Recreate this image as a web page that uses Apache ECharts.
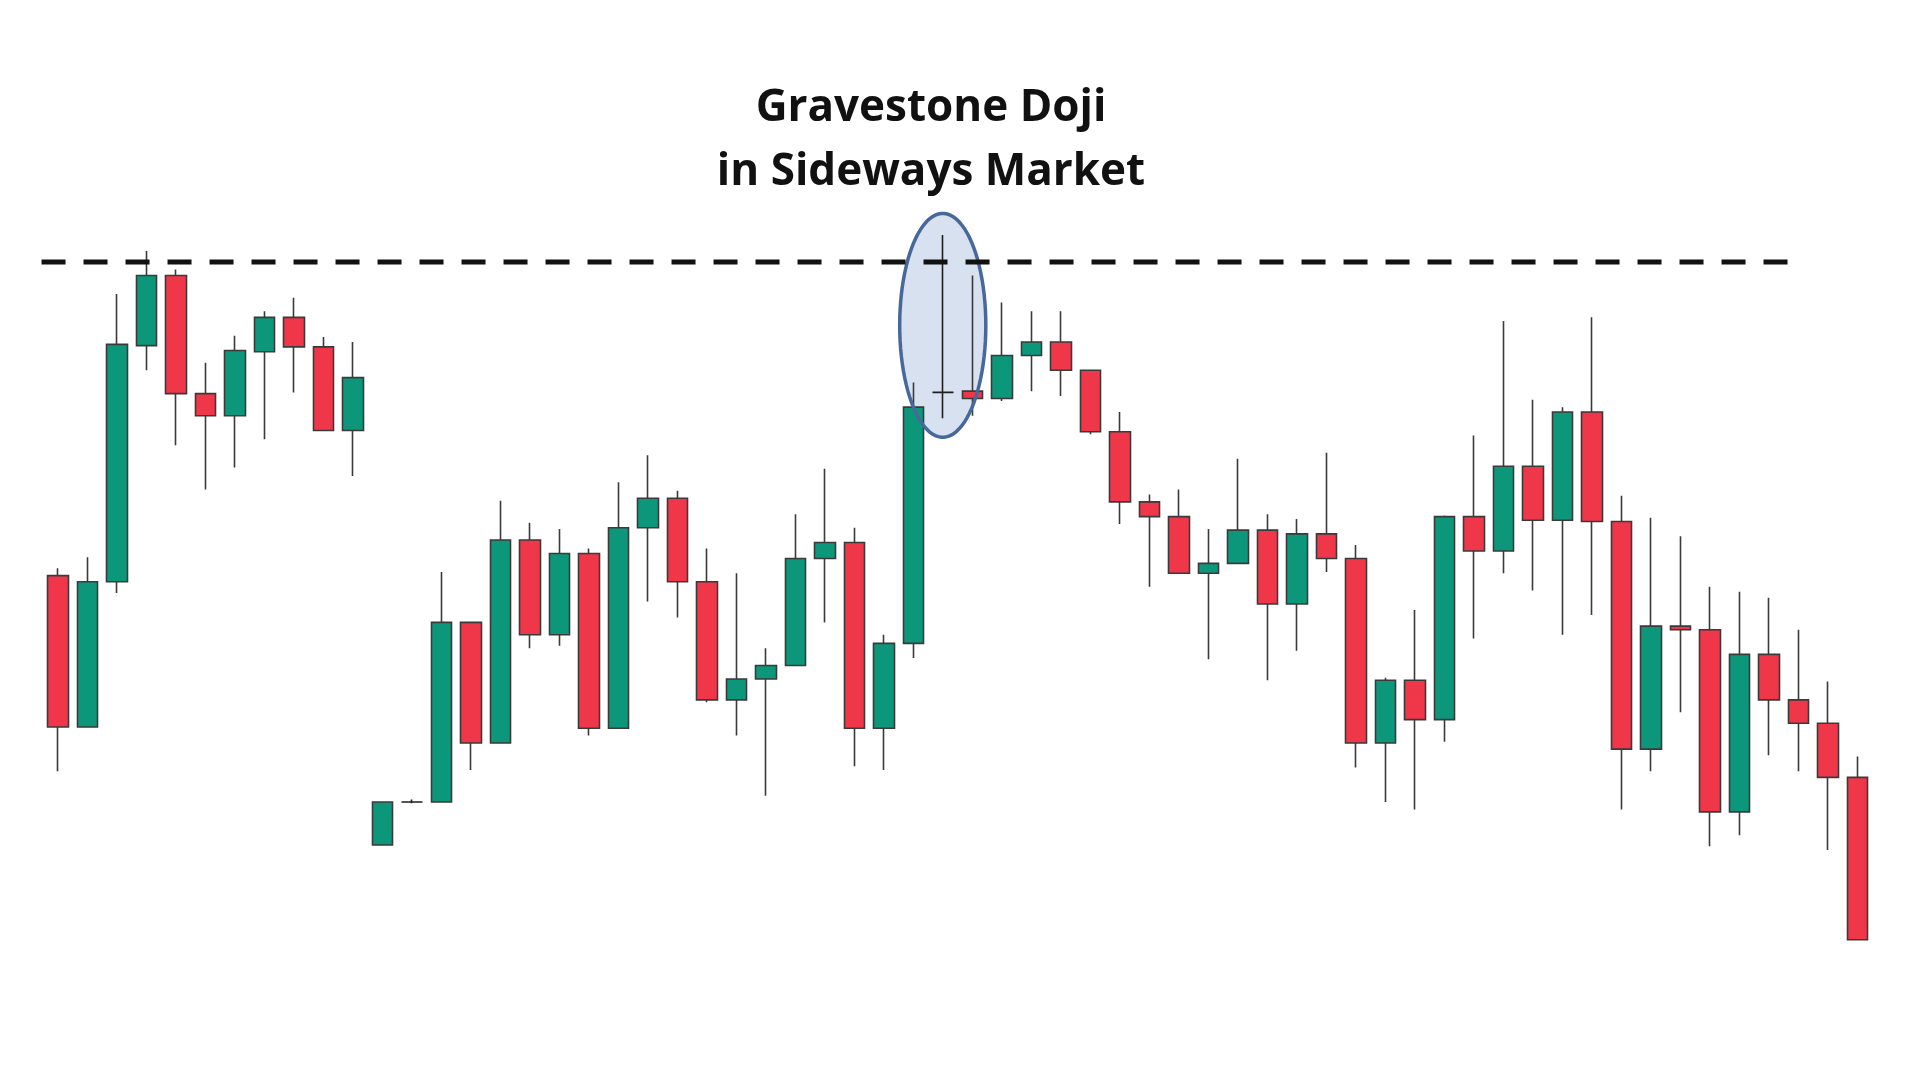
<!DOCTYPE html>
<html>
<head>
<meta charset="utf-8">
<title>Gravestone Doji</title>
<script src="https://cdn.jsdelivr.net/npm/echarts@6/dist/echarts.min.js"></script>
<style>
html, body { margin: 0; padding: 0; background: #fff; }
#chart { width: 1920px; height: 1080px; }
</style>
</head>
<body>
<div id="chart"></div>
<script>
// candle values (price units, up = higher)
var opens = [410,287,405,597,654,558,540,592,620,596,
	528,191,226,226,372,274,439,362,428,286,
	449,473,405,309,326,337,424,437,286,355,
	559,560,554,589,600,577,527,470,458,412,
	420,447,387,444,424,274,325,293,458,430,
	499,455,543,454,269,369,366,218,346,309,
	290,246];
var closes = [287,405,598,654,558,540,593,620,596,528,
	571,226,226,372,274,439,362,428,286,449,
	473,405,309,326,337,424,437,286,355,547,
	559,554,589,600,577,527,470,458,412,420,
	447,387,444,424,274,325,293,458,430,499,
	455,543,454,269,369,366,218,346,309,290,
	246,114];
var lows = [251,287,396,577,516,480,498,521,559,528,
	491,191,225,226,252,274,351,353,280,286,
	389,376,307,280,231,337,372,255,252,343,
	538,540,552,560,556,525,452,401,412,342,
	420,325,349,413,254,226,220,275,359,412,
	398,362,378,220,251,299,190,199,264,251,
	187,114];
var highs = [416,425,639,674,659,583,605,625,636,604,
	600,226,228,413,372,471,453,448,432,486,
	508,479,432,412,351,460,497,449,362,567,
	687,654,632,625,625,577,543,476,480,448,
	505,460,456,510,435,327,382,459,524,617,
	553,547,620,475,457,442,401,397,392,366,
	324,263];

// resistance level (dashed) and the circled gravestone doji
var resistance = 665;
var resistanceFrom = -0.55;
var resistanceTo = 58.65;
var dojiIndex = 30;
var ovalCenter = 613.5;
var ovalHalfWidth = 1.46;   // in candles
var ovalHalfHeight = 91;    // in price units

var titleText = 'Gravestone Doji\nin Sideways Market';

var categories = [];
var candles = [];
for (var i = 0; i < opens.length; i++) {
	categories.push(String(i + 1));
	candles.push([opens[i], closes[i], lows[i], highs[i]]);
}

function ovalPoints(cx, cy, rx, ry) {
	var pts = [];
	for (var k = 0; k < 90; k++) {
		var a = k / 90 * Math.PI * 2;
		pts.push([cx + rx * Math.cos(a), cy + ry * Math.sin(a)]);
	}
	return pts;
}

function renderOval(fill, stroke) {
	return function (params, api) {
		var c = api.coord([api.value(0), api.value(1)]);
		var rx = api.size([api.value(2), 0])[0];
		var ry = api.size([0, api.value(3)])[1];
		return {
			type: 'polygon',
			shape: { points: ovalPoints(c[0], c[1], rx, ry) },
			style: { fill: fill, stroke: stroke, lineWidth: stroke == null ? 0 : 3.5 }
		};
	};
}

var chart = echarts.init(document.getElementById('chart'));
var option = {
	backgroundColor: '#ffffff',
	animation: false,
	title: {
		text: titleText,
		left: 931,
		top: 76,
		textAlign: 'center',
		padding: 0,
		textStyle: {
			fontFamily: 'Open Sans',
			fontWeight: 'bold',
			fontSize: 44,
			lineHeight: 64,
			color: '#111111'
		}
	},
	grid: { left: 43, right: 48, top: 0, bottom: 0 },
	xAxis: [
		{
			type: 'category',
			data: categories,
			boundaryGap: true,
			show: false
		},
		{
			type: 'value',
			min: -0.5,
			max: opens.length - 0.5,
			show: false
		}
	],
	yAxis: {
		type: 'value',
		min: 0,
		max: 878,
		show: false,
		splitLine: { show: false }
	},
	series: [
		{
			// oval fill, behind the candles
			type: 'custom',
			xAxisIndex: 1,
			z: 1,
			silent: true,
			clip: false,
			renderItem: renderOval('#d7e1ef', null),
			data: [[dojiIndex, ovalCenter, ovalHalfWidth, ovalHalfHeight]]
		},
		{
			type: 'candlestick',
			xAxisIndex: 0,
			z: 2,
			barWidth: 21,
			data: candles,
			itemStyle: {
				color: '#0d977a',
				color0: '#f0374a',
				borderColor: '#3a3a3a',
				borderColor0: '#3a3a3a',
				borderColorDoji: '#1e1e1e',
				borderWidth: 1.6
			}
		},
		{
			// oval outline, drawn over the candles
			type: 'custom',
			xAxisIndex: 1,
			z: 3,
			silent: true,
			clip: false,
			renderItem: renderOval('none', '#46689b'),
			data: [[dojiIndex, ovalCenter, ovalHalfWidth, ovalHalfHeight]]
		},
		{
			type: 'line',
			xAxisIndex: 1,
			z: 4,
			symbol: 'none',
			silent: true,
			data: [[resistanceFrom, resistance], [resistanceTo, resistance]],
			lineStyle: { color: '#111111', width: 5, type: [24, 18], cap: 'butt' }
		}
	]
};
chart.setOption(option);
</script>
</body>
</html>
